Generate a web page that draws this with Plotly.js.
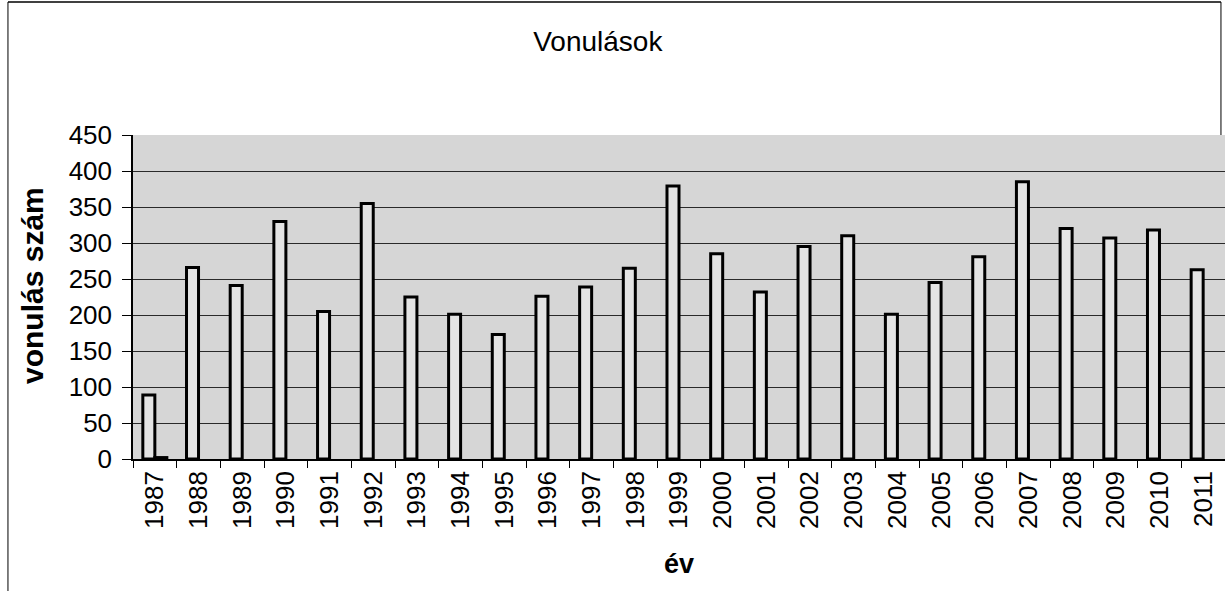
<!DOCTYPE html>
<html>
<head>
<meta charset="utf-8">
<script src="https://cdn.plot.ly/plotly-3.0.1.min.js"></script>
<style>html,body{margin:0;padding:0;background:#fff;}#chart{width:1225px;height:591px;}</style>
</head>
<body>
<div id="chart"></div>
<script>
const years = ["1987","1988","1989","1990","1991","1992","1993","1994","1995","1996","1997","1998","1999","2000","2001","2002","2003","2004","2005","2006","2007","2008","2009","2010","2011"];
const vonulasok = [89,266,241,330,205,355,225,201,173,226,239,265,379,285,232,295,310,201,245,281,385,320,307,318,263];
const series2 = [2,0,0,0,0,0,0,0,0,0,0,0,0,0,0,0,0,0,0,0,0,0,0,0,0];

const chartTitle = "Vonulások";
const xTitle = "év";
const yTitle = "vonulás szám";

const font = "Liberation Sans, Arial, sans-serif";
const barStyle = {color: "#e4e4e4", line: {color: "#000", width: 3}};

const traces = [
  {type: "bar", x: years, y: vonulasok, marker: barStyle, hoverinfo: "x+y"},
  {type: "bar", x: years, y: series2.map(v => v === 0 ? null : v), marker: barStyle, hoverinfo: "x+y"}
];

const layout = {
  width: 1225, height: 591,
  margin: {l: 133, r: 0, t: 135, b: 132},
  paper_bgcolor: "#ffffff",
  plot_bgcolor: "#d6d6d6",
  showlegend: false,
  barmode: "group",
  bargap: 0.45,
  bargroupgap: 0,
  font: {family: font, color: "#000"},
  title: {text: chartTitle, font: {family: font, size: 28, color: "#000"},
          x: 0.488, xref: "container", xanchor: "center", y: 0.93, yref: "container", yanchor: "middle"},
  xaxis: {
    type: "category",
    tickangle: -90,
    tickson: "boundaries",
    ticks: "outside", ticklen: 7, tickcolor: "#000", tickwidth: 1,
    tickfont: {family: font, size: 26, color: "#000"},
    showline: true, linecolor: "#000", linewidth: 1.5,
    showgrid: false,
    automargin: false,
    title: {text: xTitle, font: {family: font, size: 27, color: "#000", weight: "bold"}, standoff: 26}
  },
  yaxis: {
    range: [0, 450],
    dtick: 50,
    ticks: "outside", ticklen: 9, tickcolor: "#000", tickwidth: 1,
    tickfont: {family: font, size: 26, color: "#000"},
    ticklabelstandoff: 5,
    showline: true, linecolor: "#000", linewidth: 1.5,
    showgrid: true, gridcolor: "#2a2a2a", gridwidth: 1.3,
    zeroline: false,
    automargin: false
  },
  annotations: [
    {text: yTitle, xref: "paper", yref: "paper", x: -0.0925, y: 0.537, textangle: -90,
     showarrow: false, xanchor: "center", yanchor: "middle",
     font: {family: font, size: 30, color: "#000", weight: "bold"}}
  ],
  shapes: [
    {type: "line", xref: "paper", yref: "paper", x0: -0.1145, x1: -0.1145, y0: 1.4105, y1: -0.5, line: {color: "#000", width: 1}},
    {type: "line", xref: "paper", yref: "paper", x0: -0.1145, x1: 0.9963, y0: 1.4105, y1: 1.4105, line: {color: "#000", width: 1.5}},
    {type: "line", xref: "paper", yref: "paper", x0: 0.9963, x1: 0.9963, y0: 1.4105, y1: 1.0, line: {color: "#000", width: 1}}
  ]
};

Plotly.newPlot("chart", traces, layout, {displayModeBar: false, responsive: false});
</script>
</body>
</html>
